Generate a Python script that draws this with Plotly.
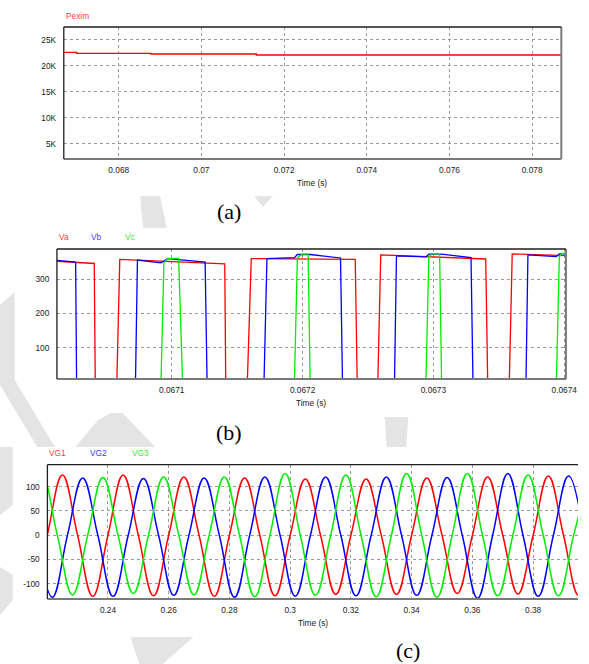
import plotly.graph_objects as go

W, H = 589, 664


def px(x):
    return x / W


def py(y):
    return 1 - y / H


RED, BLUE, GREEN = "#ff0000", "#0000ff", "#00ee00"
LRED, LBLUE, LGREEN = "#ff3c3c", "#3c3cff", "#3ce63c"
TICKFONT = dict(family="Liberation Sans, Arial, sans-serif", size=8.3, color="#222222")
GRIDC = "#9a9a9a"

# ---------------- (a) Pexim ----------------
pexim_t = [0.06660, 0.06698, 0.06878, 0.07133, 0.07880]
pexim_v = [22560, 22370, 22240, 22050, 22050]
a_xticks = [0.068, 0.070, 0.072, 0.074, 0.076, 0.078]
a_xtext = ["0.068", "0.07", "0.072", "0.074", "0.076", "0.078"]
a_yticks = [5000, 10000, 15000, 20000, 25000]
a_ytext = ["5K", "10K", "15K", "20K", "25K"]

# ---------------- (b) Va, Vb, Vc ----------------
va_t = [0.06701, 0.06704075, 0.0670415, 0.067058, 0.06706025, 0.0671405, 0.06714125,
        0.06715775, 0.06716075, 0.06724025, 0.06724175, 0.0672575, 0.06725975,
        0.06734, 0.0673415, 0.067358, 0.06736025, 0.0674015]
va_v = [352, 345, 0, 0, 357, 344, 0,
        0, 359, 357, 0, 0, 370,
        358, 0, 0, 373, 368]
vb_t = [0.06701, 0.0670265, 0.06702725, 0.06707225, 0.06707375, 0.06709175, 0.067097,
        0.0671255, 0.067127, 0.0671705, 0.06717275, 0.06719375, 0.067196, 0.06720575,
        0.067229, 0.0672305, 0.06727025, 0.06727175, 0.06729425, 0.0672965, 0.06730625,
        0.06732875, 0.06733025, 0.06737075, 0.06737225, 0.067394, 0.06739625, 0.0674015]
vb_v = [355, 349, 0, 0, 355, 347, 359,
        349, 0, 0, 359, 362, 371, 371,
        361, 0, 0, 367, 364, 372, 372,
        362, 0, 0, 370, 365, 373, 373]
vc_t = [0.06701, 0.06709175, 0.067094, 0.067097, 0.06710525, 0.06710825,
        0.06719375, 0.067196, 0.0671998, 0.06720425, 0.06720575,
        0.06729425, 0.0672965, 0.06729875, 0.06730475, 0.06730625,
        0.067394, 0.06739625, 0.0673985, 0.0674015]
vc_v = [0, 0, 347, 360, 360, 0,
        0, 362, 372, 372, 0,
        0, 364, 373, 373, 0,
        0, 365, 374, 375]
b_xticks = [0.0671, 0.0672, 0.0673, 0.0674]
b_xtext = ["0.0671", "0.0672", "0.0673", "0.0674"]
b_yticks = [100, 200, 300]
b_ytext = ["100", "200", "300"]

vg1_t = [0.215, 0.220, 0.225, 0.230, 0.235, 0.240, 0.245, 0.250, 0.255, 0.260,
         0.265, 0.270, 0.275, 0.280, 0.285, 0.290, 0.295, 0.300, 0.305, 0.310,
         0.315, 0.320, 0.325, 0.330, 0.335, 0.340, 0.345, 0.350, 0.355, 0.360,
         0.365, 0.370, 0.375, 0.380, 0.385, 0.390, 0.395, 0.400]
vg1_v = [-124, 0, 124, 0, -126, 0, 124, 0, -125, 0,
         120, 0, -126, 0, 118, 0, -125, 0, 116, 0,
         -122, 0, 116, 0, -122, 0, 118, 0, -120, 0,
         120, 0, -121, 0, 122, 0, -124, 0]
vg2_t = [0.21667, 0.22167, 0.22667, 0.23167, 0.23667, 0.24167, 0.24667, 0.25167,
         0.25667, 0.26167, 0.26667, 0.27167, 0.27667, 0.28167, 0.28667, 0.29167,
         0.29667, 0.30167, 0.30667, 0.31167, 0.31667, 0.32167, 0.32667, 0.33167,
         0.33667, 0.34167, 0.34667, 0.35167, 0.35667, 0.36167, 0.36667, 0.37167,
         0.37667, 0.38167, 0.38667, 0.39167, 0.39667]
vg2_v = [0, -128, 0, 118, 0, -126, 0, 117,
         0, -124, 0, 118, 0, -128, 0, 120,
         0, -126, 0, 120, 0, -125, 0, 120,
         0, -124, 0, 119, 0, -130, 0, 127,
         0, -126, 0, 122, 0]
vg3_t = [0.21333, 0.21833, 0.22333, 0.22833, 0.23333, 0.23833, 0.24333, 0.24833,
         0.25333, 0.25833, 0.26333, 0.26833, 0.27333, 0.27833, 0.28333, 0.28833,
         0.29333, 0.29833, 0.30333, 0.30833, 0.31333, 0.31833, 0.32333, 0.32833,
         0.33333, 0.33833, 0.34333, 0.34833, 0.35333, 0.35833, 0.36333, 0.36833,
         0.37333, 0.37833, 0.38333, 0.38833, 0.39333, 0.39833]
vg3_v = [0, 122, 0, -123, 0, 119, 0, -120,
         0, 120, 0, -123, 0, 120, 0, -127,
         0, 127, 0, -124, 0, 124, 0, -127,
         0, 127, 0, -128, 0, 127, 0, -125,
         0, 124, 0, -125, 0, 122]
c_xticks = [0.24, 0.26, 0.28, 0.30, 0.32, 0.34, 0.36, 0.38]
c_xtext = ["0.24", "0.26", "0.28", "0.3", "0.32", "0.34", "0.36", "0.38"]
c_yticks = [-100, -50, 0, 50, 100]
c_ytext = ["-100", "-50", "0", "50", "100"]

fig = go.Figure()
fig.add_trace(go.Scatter(x=pexim_t, y=pexim_v, mode="lines", line=dict(color=RED, width=1.4, shape="hv"),
                         xaxis="x", yaxis="y", hoverinfo="skip"))
for t, v, c in [(va_t, va_v, RED), (vb_t, vb_v, BLUE), (vc_t, vc_v, GREEN)]:
    fig.add_trace(go.Scatter(x=t, y=v, mode="lines", line=dict(color=c, width=1.3),
                             xaxis="x2", yaxis="y2", hoverinfo="skip"))
for t, v, c in [(vg1_t, vg1_v, RED), (vg2_t, vg2_v, BLUE), (vg3_t, vg3_v, GREEN)]:
    fig.add_trace(go.Scatter(x=t, y=v, mode="lines", line=dict(color=c, width=1.5, shape="spline", smoothing=1.2),
                             xaxis="x3", yaxis="y3", hoverinfo="skip"))


def xax(dom, rng, tv, tt, anchor):
    return dict(domain=dom, range=rng, tickvals=tv, ticktext=tt, anchor=anchor,
                showgrid=True, gridcolor=GRIDC, gridwidth=1, griddash="3px,3px",
                zeroline=False, showline=False, ticks="outside", ticklen=3,
                tickcolor="rgba(0,0,0,0)", tickfont=TICKFONT, fixedrange=True)


def yax(dom, rng, tv, tt, anchor):
    return dict(domain=dom, range=rng, tickvals=tv, ticktext=tt, anchor=anchor,
                showgrid=True, gridcolor=GRIDC, gridwidth=1, griddash="3px,3px",
                zeroline=False, showline=False, ticks="outside", ticklen=5,
                tickcolor="rgba(0,0,0,0)", tickfont=TICKFONT, fixedrange=True)


layout = dict(
    width=W, height=H, autosize=False, showlegend=False,
    margin=dict(l=0, r=0, t=0, b=0), paper_bgcolor="white", plot_bgcolor="white",
    xaxis=xax([px(65), px(572)], [0.066671, 0.078705], a_xticks, a_xtext, "y"),
    yaxis=yax([py(159), py(27)], [2050, 27440], a_yticks, a_ytext, "x"),
    xaxis2=xax([px(58), px(576.7)], [0.0670122, 0.0674013], b_xticks, b_xtext, "y2"),
    yaxis2=yax([py(379), py(249)], [10, 387], b_yticks, b_ytext, "x2"),
    xaxis3=xax([px(48.3), 1.0], [0.22006, 0.39477], c_xticks, c_xtext, "y3"),
    yaxis3=yax([py(599), py(464.7)], [-131.5, 145.4], c_yticks, c_ytext, "x3"),
)

shapes = []
# watermark fragments (light grey, behind everything)
WM = "#e4e4e4"


def poly(pts):
    d = "M " + " L ".join(f"{px(x):.5f} {py(y):.5f}" for x, y in pts) + " Z"
    return dict(type="path", path=d, xref="paper", yref="paper", fillcolor=WM,
                line=dict(width=0), layer="below")


shapes += [
    poly([(143, 196), (163, 196), (170, 228), (146, 228), (144, 212)]),
    poly([(259, 196), (278, 196), (268, 207)]),
    poly([(0, 305), (15, 292), (15, 380), (56, 447), (38, 447), (0, 385)]),
    poly([(77, 447), (100, 420), (113, 413), (125, 413), (158, 447)]),
    poly([(392, 417), (416, 417), (414, 447), (394, 447)]),
    poly([(0, 447), (13, 447), (13, 505), (0, 515)]),
    poly([(0, 567), (13, 575), (13, 600), (0, 615)]),
    poly([(133, 637), (197, 637), (166, 664), (142, 664), (137, 650)]),
]

# frames of the three plot areas
DARK, GREY = "#1e1e1e", "#7a7a7a"
for ax, right in [("x", True), ("x2", True), ("x3", False)]:
    yx = ax.replace("x", "y")
    xr, yr = ax + " domain", yx + " domain"
    shapes.append(dict(type="line", xref=xr, yref=yr, x0=0, x1=1, y0=0, y1=0, line=dict(color=GREY, width=2)))
    if right:
        shapes.append(dict(type="line", xref=xr, yref=yr, x0=1, x1=1, y0=0, y1=1, line=dict(color=GREY, width=2)))
    shapes.append(dict(type="line", xref=xr, yref=yr, x0=0, x1=1, y0=1, y1=1, line=dict(color=DARK, width=1.3)))
    shapes.append(dict(type="line", xref=xr, yref=yr, x0=0, x1=0, y0=0, y1=1, line=dict(color=DARK, width=1.3)))

layout["shapes"] = shapes

SMALL = dict(family="Liberation Sans, Arial, sans-serif", size=8.3)
SERIF = dict(family="Liberation Serif, Times New Roman, serif", size=22, color="black")


def ann(text, x, y, color="#222222", xanchor="left", font=None):
    f = dict(font or SMALL)
    f["color"] = color
    return dict(text=text, x=px(x), y=py(y), xref="paper", yref="paper", showarrow=False,
                xanchor=xanchor, yanchor="middle", font=f)


layout["annotations"] = [
    ann("Pexim", 65, 16, LRED),
    ann("Time (s)", 318, 183, xanchor="center"),
    ann("(a)", 233, 212, "black", "center", SERIF),
    ann("Va", 58, 236.5, LRED),
    ann("Vb", 91, 236.5, LBLUE),
    ann("Vc", 125, 236.5, LGREEN),
    ann("Time (s)", 317, 403, xanchor="center"),
    ann("(b)", 233, 432, "black", "center", SERIF),
    ann("VG1", 48, 453, LRED),
    ann("VG2", 90, 453, LBLUE),
    ann("VG3", 132, 453, LGREEN),
    ann("Time (s)", 319, 623, xanchor="center"),
    ann("(c)", 416, 650, "black", "center", SERIF),
]

fig.update_layout(**layout)
fig.write_html("out.html", config={"displayModeBar": False},
               post_script="document.body.style.margin='0';document.body.style.overflow='hidden';")
